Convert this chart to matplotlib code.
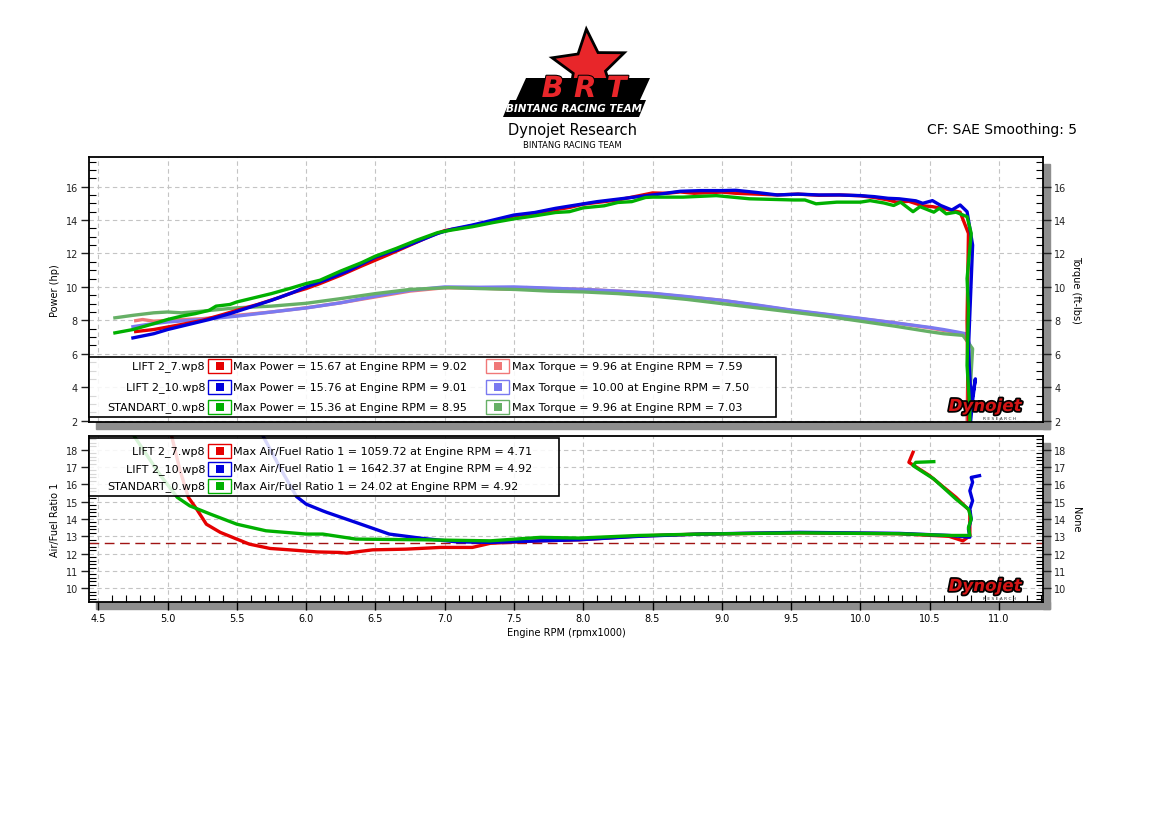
import numpy as np
import matplotlib
matplotlib.use("Agg")
import matplotlib.pyplot as plt
from matplotlib.patches import Rectangle, Polygon
from matplotlib.ticker import MultipleLocator, FormatStrFormatter
import matplotlib.patheffects as pe

# ---- data (rpm x1000) ----
pwr_red_rpm = [4.77, 4.9, 5.0, 5.1, 5.25, 5.4, 5.5, 5.65, 5.8, 5.9, 6.0, 6.1, 6.25, 6.4, 6.5, 6.6, 6.75, 6.9,
               7.0, 7.1, 7.25, 7.4, 7.5, 7.6, 7.75, 7.9, 8.0, 8.1, 8.25, 8.4, 8.5, 8.6, 8.7, 8.8, 9.0, 9.1,
               9.25, 9.4, 9.55, 9.7, 9.85, 10.0, 10.1, 10.2, 10.26, 10.35, 10.45, 10.52, 10.62, 10.72,
               10.78, 10.77, 10.78]
pwr_red = [7.33, 7.45, 7.6, 7.75, 8.0, 8.35, 8.6, 8.95, 9.35, 9.65, 9.9, 10.2, 10.7, 11.25, 11.6, 11.95, 12.5,
           13.05, 13.37, 13.5, 13.75, 14.0, 14.25, 14.35, 14.55, 14.75, 14.95, 15.05, 15.2, 15.45, 15.62, 15.6,
           15.68, 15.6, 15.67, 15.6, 15.55, 15.5, 15.55, 15.48, 15.5, 15.45, 15.35, 15.2, 15.07, 15.12, 14.85,
           14.8, 14.65, 14.47, 13.2, 8.0, 1.5]

pwr_blue_rpm = [4.75, 4.9, 5.0, 5.15, 5.3, 5.45, 5.6, 5.75, 5.9, 6.0, 6.15, 6.3, 6.5, 6.65, 6.8, 6.95, 7.05,
                7.2, 7.35, 7.5, 7.65, 7.8, 7.95, 8.1, 8.25, 8.4, 8.55, 8.7, 8.85, 9.0, 9.1, 9.25, 9.4, 9.55,
                9.7, 9.85, 10.0, 10.1, 10.2, 10.28, 10.4, 10.45, 10.52, 10.58, 10.66, 10.72, 10.77, 10.81,
                10.78, 10.8, 10.83, 10.81, 10.79]
pwr_blue = [6.95, 7.2, 7.45, 7.75, 8.05, 8.4, 8.8, 9.2, 9.65, 10.0, 10.45, 10.95, 11.78, 12.2, 12.7, 13.2, 13.45,
            13.7, 14.0, 14.3, 14.45, 14.7, 14.9, 15.1, 15.25, 15.4, 15.55, 15.72, 15.76, 15.76, 15.78, 15.65,
            15.5, 15.55, 15.5, 15.5, 15.46, 15.4, 15.3, 15.27, 15.15, 15.0, 15.16, 14.87, 14.6, 14.9, 14.5,
            12.5, 6.3, 3.0, 4.5, 3.2, 1.5]

pwr_green_rpm = [4.62, 4.75, 4.9, 5.0, 5.1, 5.2, 5.3, 5.35, 5.45, 5.5, 5.6, 5.75, 5.9, 6.0, 6.1, 6.25, 6.4,
                 6.5, 6.65, 6.8, 6.95, 7.05, 7.2, 7.35, 7.5, 7.65, 7.8, 7.9, 8.0, 8.15, 8.25, 8.35, 8.45,
                 8.5, 8.72, 8.96, 9.2, 9.52, 9.6, 9.68, 9.83, 10.0, 10.07, 10.17, 10.24, 10.29, 10.38, 10.43,
                 10.53, 10.57, 10.62, 10.69, 10.77, 10.8, 10.77, 10.78, 10.77, 10.79, 10.79]
pwr_green = [7.25, 7.45, 7.8, 8.05, 8.25, 8.4, 8.6, 8.85, 8.95, 9.1, 9.3, 9.6, 9.95, 10.2, 10.4, 10.95, 11.45,
             11.84, 12.3, 12.8, 13.25, 13.4, 13.6, 13.85, 14.07, 14.25, 14.45, 14.5, 14.73, 14.85, 15.05,
             15.1, 15.35, 15.37, 15.37, 15.46, 15.27, 15.2, 15.2, 14.97, 15.07, 15.07, 15.16, 15.02, 14.87,
             15.07, 14.5, 14.8, 14.47, 14.7, 14.37, 14.47, 14.2, 13.2, 10.5, 8.7, 5.3, 2.7, 1.5]

trq_red_rpm = [4.77, 4.82, 4.9, 5.0, 5.25, 5.5, 5.75, 6.0, 6.25, 6.5, 6.75, 7.0, 7.25, 7.4, 7.5, 7.59, 7.75,
               8.0, 8.25, 8.5, 8.75, 9.0, 9.25, 9.5, 9.75, 10.0, 10.25, 10.5, 10.6, 10.74, 10.78, 10.77, 10.77]
trq_red = [7.98, 8.05, 7.95, 8.0, 8.1, 8.3, 8.5, 8.75, 9.05, 9.4, 9.75, 9.95, 9.93, 9.88, 9.85, 9.96, 9.9,
           9.85, 9.75, 9.6, 9.4, 9.2, 8.9, 8.6, 8.35, 8.1, 7.85, 7.55, 7.4, 7.2, 6.8, 2.5, 1.5]

trq_blue_rpm = [4.75, 4.85, 5.0, 5.25, 5.5, 5.75, 6.0, 6.25, 6.5, 6.75, 7.0, 7.25, 7.5, 7.75, 8.0, 8.25, 8.5,
                8.75, 9.0, 9.25, 9.5, 9.75, 10.0, 10.25, 10.5, 10.6, 10.7, 10.76, 10.8, 10.78, 10.78]
trq_blue = [7.62, 7.75, 7.9, 8.05, 8.25, 8.5, 8.74, 9.05, 9.45, 9.8, 10.0, 9.98, 10.0, 9.93, 9.85, 9.75, 9.62,
            9.42, 9.2, 8.92, 8.62, 8.37, 8.12, 7.85, 7.58, 7.45, 7.3, 7.2, 6.3, 3.0, 1.5]

trq_green_rpm = [4.62, 4.75, 4.9, 5.0, 5.1, 5.25, 5.5, 5.75, 6.0, 6.25, 6.5, 6.75, 7.03, 7.25, 7.5, 7.75, 8.0,
                 8.25, 8.5, 8.75, 9.0, 9.25, 9.5, 9.75, 10.0, 10.25, 10.5, 10.6, 10.74, 10.81, 10.79, 10.78]
trq_green = [8.15, 8.3, 8.45, 8.5, 8.45, 8.55, 8.75, 8.85, 9.02, 9.3, 9.6, 9.85, 9.96, 9.9, 9.85, 9.75, 9.7,
             9.6, 9.45, 9.25, 9.0, 8.75, 8.5, 8.25, 7.95, 7.65, 7.32, 7.2, 7.1, 6.3, 3.5, 1.5]

afr_red_rpm = [4.98, 5.03, 5.09, 5.15, 5.21, 5.28, 5.38, 5.5, 5.59, 5.74, 5.88, 6.08, 6.24, 6.29, 6.48, 6.72,
               6.97, 7.2, 7.33, 7.69, 7.97, 8.4, 8.84, 9.56, 10.28, 10.64, 10.74, 10.79, 10.79, 10.69, 10.5,
               10.37, 10.35, 10.38]
afr_red = [20.5, 18.77, 16.8, 15.25, 14.57, 13.7, 13.23, 12.84, 12.55, 12.3, 12.22, 12.1, 12.07, 12.03, 12.22,
           12.26, 12.36, 12.36, 12.6, 12.74, 12.8, 13.02, 13.13, 13.2, 13.15, 13.0, 12.74, 13.03, 14.47, 15.25,
           16.5, 17.17, 17.27, 17.85]

afr_blue_rpm = [5.64, 5.69, 5.83, 5.93, 6.0, 6.12, 6.15, 6.36, 6.6, 6.84, 7.09, 7.33, 7.69, 7.97, 8.4, 8.84,
                9.56, 10.28, 10.64, 10.79, 10.78, 10.8, 10.79, 10.81, 10.79, 10.81, 10.8, 10.86]
afr_blue = [20.5, 18.77, 16.7, 15.3, 14.86, 14.47, 14.38, 13.8, 13.13, 12.88, 12.68, 12.65, 12.74, 12.8, 13.0,
            13.13, 13.23, 13.17, 13.05, 12.95, 13.42, 14.0, 14.57, 15.05, 15.63, 16.12, 16.4, 16.5]

afr_green_rpm = [4.7, 4.76, 4.95, 5.07, 5.16, 5.31, 5.5, 5.71, 6.0, 6.12, 6.36, 6.84, 7.33, 7.69, 7.97, 8.4,
                 8.84, 9.56, 10.28, 10.64, 10.79, 10.78, 10.8, 10.78, 10.69, 10.53, 10.38, 10.4, 10.53]
afr_green = [20.5, 18.77, 16.5, 15.25, 14.76, 14.28, 13.7, 13.32, 13.13, 13.13, 12.84, 12.8, 12.74, 12.94,
             12.9, 13.05, 13.13, 13.2, 13.15, 13.05, 13.05, 13.51, 14.0, 14.57, 15.15, 16.31, 17.08, 17.27, 17.31]

afr_target = 12.6

runs = ["LIFT 2_7.wp8", "LIFT 2_10.wp8", "STANDART_0.wp8"]
max_power = ["15.67", "15.76", "15.36"]
max_power_rpm = ["9.02", "9.01", "8.95"]
max_torque = ["9.96", "10.00", "9.96"]
max_torque_rpm = ["7.59", "7.50", "7.03"]
max_afr = ["1059.72", "1642.37", "24.02"]
max_afr_rpm = ["4.71", "4.92", "4.92"]

dark = ["#e50000", "#0000dd", "#00b000"]
light = ["#f07878", "#7a7af0", "#66b066"]

# ---- figure ----
W, H = 1150, 829
def fx(px): return px / W
def fy(py): return 1 - py / H

fig = plt.figure(figsize=(W / 100, H / 100), dpi=100)
ax1 = fig.add_axes([fx(89), fy(423), fx(1043) - fx(89), fy(158) - fy(423)])
ax2 = fig.add_axes([fx(89), fy(603), fx(1043) - fx(89), fy(437) - fy(603)])

# grey drop shadows
for (l, t, r, b) in [(89, 158, 1043, 423), (89, 437, 1043, 603)]:
    fig.patches.append(Rectangle((fx(r), fy(b + 7)), 7 / W, (b - t) / H, transform=fig.transFigure,
                                 color="#8e8e8e", zorder=-1))
    fig.patches.append(Rectangle((fx(l + 7), fy(b + 7)), (r - l) / W, 7 / H, transform=fig.transFigure,
                                 color="#8e8e8e", zorder=-1))

def style(ax, ylo, yhi, major, minor):
    ax.set_xlim(4.433, 11.318)
    ax.set_ylim(ylo, yhi)
    ax.xaxis.set_major_locator(MultipleLocator(0.5))
    ax.yaxis.set_major_locator(MultipleLocator(major))
    ax.yaxis.set_minor_locator(MultipleLocator(minor))
    ax.yaxis.set_ticks_position("both")
    ax.tick_params(axis="y", which="major", direction="out", length=6, width=1, labelsize=7,
                   labelright=True, pad=2, colors="#222222")
    ax.tick_params(axis="y", which="minor", direction="in", length=5, width=0.8)
    ax.grid(True, which="major", ls=(0, (4, 3)), color="#c4c4c4", lw=0.8)
    for s in ax.spines.values():
        s.set_linewidth(1.3)

style(ax1, 1.92, 17.77, 2, 0.5)
style(ax2, 9.21, 18.79, 1, 0.2)
ax1.tick_params(axis="x", which="both", length=0, labelbottom=False)
ax2.xaxis.set_minor_locator(MultipleLocator(0.1))
ax2.xaxis.set_major_formatter(FormatStrFormatter("%.1f"))
ax2.tick_params(axis="x", which="major", direction="out", length=6, width=1, labelsize=7, pad=2)
ax2.tick_params(axis="x", which="minor", direction="in", length=5, width=0.8)

# curves
for x, y, c in zip([trq_red_rpm, trq_blue_rpm, trq_green_rpm], [trq_red, trq_blue, trq_green], light):
    ax1.plot(x, y, color=c, lw=2.4, solid_joinstyle="round")
for x, y, c in zip([pwr_red_rpm, pwr_blue_rpm, pwr_green_rpm], [pwr_red, pwr_blue, pwr_green], dark):
    ax1.plot(x, y, color=c, lw=2.4, solid_joinstyle="round")
ax2.axhline(afr_target, color="#a01414", ls=(0, (7, 4)), lw=1)
for x, y, c in zip([afr_red_rpm, afr_blue_rpm, afr_green_rpm], [afr_red, afr_blue, afr_green], dark):
    ax2.plot(x, y, color=c, lw=2.4, solid_joinstyle="round")

ax1.set_ylabel("Power (hp)", fontsize=7, labelpad=4)
ax2.set_ylabel("Air/Fuel Ratio 1", fontsize=7, labelpad=4)
ax2.set_xlabel("Engine RPM (rpmx1000)", fontsize=7, labelpad=3)
fig.text(fx(1076), fy(290), "Torque (ft-lbs)", rotation=270, ha="center", va="center", fontsize=7)
fig.text(fx(1076), fy(520), "None", rotation=270, ha="center", va="center", fontsize=7)

# legends
def box(x0, y0, x1, y1):
    fig.patches.append(Rectangle((fx(x0), fy(y1)), fx(x1) - fx(x0), fy(y0) - fy(y1),
                                 transform=fig.transFigure, facecolor=(1, 1, 1, 0.85),
                                 edgecolor="black", lw=1.2, zorder=5))

def swatch(px, py, c):
    fig.patches.append(Rectangle((fx(px), fy(py + 7)), 23 / W, 14 / H, transform=fig.transFigure,
                                 facecolor="white", edgecolor=c, lw=1, zorder=6))
    fig.patches.append(Rectangle((fx(px + 7.5), fy(py + 4)), 8 / W, 8 / H, transform=fig.transFigure,
                                 facecolor=c, edgecolor="none", zorder=7))

tkw = dict(fontsize=8, va="center", zorder=8)
box(89, 358, 776, 418)
for i, py in enumerate([367, 388, 408]):
    fig.text(fx(205), fy(py), runs[i], ha="right", **tkw)
    swatch(208, py, dark[i])
    fig.text(fx(233), fy(py), f"Max Power = {max_power[i]} at Engine RPM = {max_power_rpm[i]}", ha="left", **tkw)
    swatch(486, py, light[i])
    fig.text(fx(512), fy(py), f"Max Torque = {max_torque[i]} at Engine RPM = {max_torque_rpm[i]}", ha="left", **tkw)

box(89, 439, 559, 497)
for i, py in enumerate([452, 469.5, 487]):
    fig.text(fx(205), fy(py), runs[i], ha="right", **tkw)
    swatch(208, py, dark[i])
    fig.text(fx(233), fy(py), f"Max Air/Fuel Ratio 1 = {max_afr[i]} at Engine RPM = {max_afr_rpm[i]}", ha="left", **tkw)

# Dynojet marks
for py in [407, 587]:
    fig.text(fx(985), fy(py), "Dynojet", ha="center", va="center", fontsize=12, fontweight="bold",
             style="italic", color="#d41515", zorder=9,
             path_effects=[pe.withStroke(linewidth=2.5, foreground="black")])
    fig.text(fx(1000), fy(py + 12), "R E S E A R C H", ha="center", va="center", fontsize=3.2,
             color="#333333", zorder=9)

# header
ang = np.deg2rad(90 + 4) + np.arange(10) * np.pi / 5
rad = np.where(np.arange(10) % 2 == 0, 38, 17)
star = np.column_stack([fx(589 + rad * np.cos(ang)), fy(68 - rad * np.sin(ang))])
fig.patches.append(Polygon(star, closed=True, transform=fig.transFigure, facecolor="#e8262a",
                           edgecolor="black", lw=2, zorder=2))
fig.patches.append(Polygon([(fx(516), fy(101)), (fx(526), fy(79)), (fx(650), fy(79)), (fx(640), fy(101))],
                           closed=True, transform=fig.transFigure, facecolor="black", zorder=3))
fig.text(fx(584), fy(90), "B R T", ha="center", va="center", fontsize=21, fontweight="bold", style="italic",
         color="#e8262a", zorder=4, path_effects=[pe.withStroke(linewidth=1.5, foreground="black")])
fig.patches.append(Polygon([(fx(503), fy(118)), (fx(510), fy(101)), (fx(646), fy(101)), (fx(639), fy(118))],
                           closed=True, transform=fig.transFigure, facecolor="black", zorder=3))
fig.text(fx(574), fy(109.5), "BINTANG RACING TEAM", ha="center", va="center", fontsize=7.5,
         fontweight="bold", style="italic", color="white", zorder=4)
fig.text(fx(572), fy(130), "Dynojet Research", ha="center", va="center", fontsize=10.5)
fig.text(fx(572), fy(146), "BINTANG RACING TEAM", ha="center", va="center", fontsize=6)
fig.text(fx(1077), fy(130), "CF: SAE Smoothing: 5", ha="right", va="center", fontsize=10)

fig.savefig("out.png", dpi=100)
